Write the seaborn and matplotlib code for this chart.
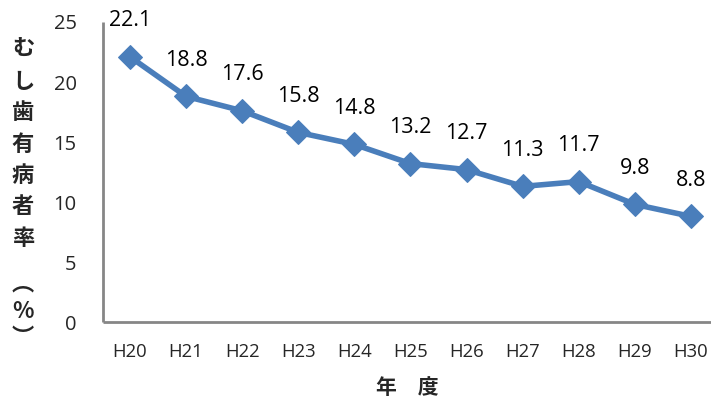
import matplotlib
matplotlib.use("Agg")
import matplotlib.pyplot as plt
import seaborn as sns
import pandas as pd

years = ["H20", "H21", "H22", "H23", "H24", "H25", "H26", "H27", "H28", "H29", "H30"]
rates = [22.1, 18.8, 17.6, 15.8, 14.8, 13.2, 12.7, 11.3, 11.7, 9.8, 8.8]
y_ticks = [0, 5, 10, 15, 20, 25]

sns.set_style("white")
plt.rcParams['font.family'] = ['Open Sans', 'Noto Sans CJK JP', 'DejaVu Sans']

df = pd.DataFrame({"year": years, "rate": rates, "pos": range(len(years))})

W, H = 711, 401
fig = plt.figure(figsize=(W / 100, H / 100), dpi=100)
ax = fig.add_axes([103 / W, (H - 322) / H, (W - 103) / W, 300 / H])

color = "#4A7EBB"
sns.lineplot(data=df, x="pos", y="rate", ax=ax, color=color, linewidth=4,
             marker="D", markersize=12.5, markeredgecolor=color, markerfacecolor=color)

for i, v in enumerate(rates):
    ax.annotate(f"{v:.1f}", (i, v), xytext=(0, 26), textcoords="offset points",
                ha="center", va="center", fontsize=15.5, color="black")

ax.set_xlim(-0.48, (W - 130) / 56.1)
ax.set_ylim(0, 25)
ax.set_yticks(y_ticks)
ax.set_yticklabels([str(t) for t in y_ticks], fontsize=14.5)
ax.set_xticks(range(len(years)))
ax.set_xticklabels(years, fontsize=13.3)
ax.tick_params(axis="y", direction="in", length=5, width=1.5, color="#868686", pad=19)
ax.tick_params(axis="x", direction="in", length=4, width=1.5, color="#868686", pad=15)
for s in ["top", "right"]:
    ax.spines[s].set_visible(False)
for s in ["left", "bottom"]:
    ax.spines[s].set_color("#868686")
    ax.spines[s].set_linewidth(2)
    ax.spines[s].set_capstyle("butt")
ax.set_xlabel("")
ax.set_ylabel("")

cjk = ['Noto Sans CJK JP', 'DejaVu Sans']
fig.text(407 / W, 1 - 387 / H, "年　度", ha="center", va="center", fontsize=15,
         fontweight="bold", family=cjk)
fig.text(23 / W, 1 - 144 / H, "\n".join("むし歯有病者率"), ha="center", va="center",
         fontsize=16, fontweight="bold", family=cjk, linespacing=1.47)
fig.text(23 / W, 1 - 311 / H, "︵\n%\n︶", ha="center", va="center",
         fontsize=16, fontweight="bold", family=cjk, linespacing=1.2)

fig.savefig("out.png", dpi=100)
